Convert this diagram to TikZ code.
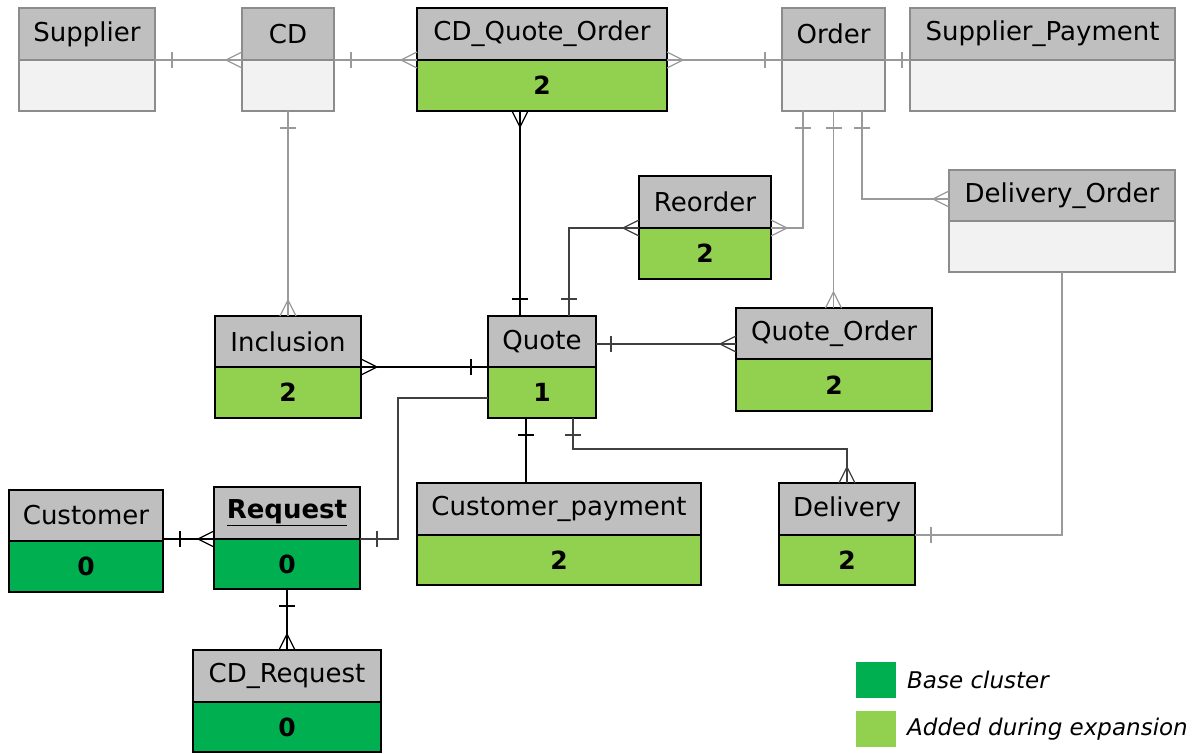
\documentclass[tikz,border=0pt]{standalone}
\usepackage{fontspec}
\setmainfont{DejaVu Sans}
\usetikzlibrary{calc}
\definecolor{hdrgray}{HTML}{BFBFBF}
\definecolor{plainbody}{HTML}{F2F2F2}
\definecolor{lgreen}{HTML}{92D050}
\definecolor{dgreen}{HTML}{00B050}
\definecolor{bordergray}{HTML}{8C8C8C}
\definecolor{linegray}{HTML}{9A9A9A}
\definecolor{linedark}{HTML}{404040}
\tikzset{
 pics/crow/.style={code={\draw (0,8)--(16,0)--(0,-8);}},
 pics/bar/.style={code={\draw (#1,8)--(#1,-8);}},
 pics/bar/.default=17,
}
\newcommand{\ent}[9]{%
 \node[hdr-#7, minimum width=#6pt, minimum height={(#4-#3)*1pt}] (#1h) at (#2,-#3) {#8};
 \node[bdy-#7, minimum width=#6pt, minimum height={(#5-#4)*1pt}] (#1b) at (#2,-#4) {#9};}
\begin{document}
\begin{tikzpicture}[x=1pt,y=1pt, font=\fontsize{26}{30}\selectfont,
 box/.style={rectangle, inner sep=0pt, outer sep=0pt, line width=1.6pt, anchor=north west},
 hdr-p/.style={box, fill=hdrgray, draw=bordergray},
 bdy-p/.style={box, fill=plainbody, draw=bordergray},
 hdr-l/.style={box, fill=hdrgray, draw=black},
 bdy-l/.style={box, fill=lgreen, draw=black, font=\fontsize{25}{28}\selectfont\bfseries},
 hdr-d/.style={box, fill=hdrgray, draw=black},
 bdy-d/.style={box, fill=dgreen, draw=black, font=\fontsize{25}{28}\selectfont\bfseries},
 gcon/.style={color=linegray, line width=1.2pt},
 kcon/.style={color=black, line width=1.2pt},
 dcon/.style={color=linedark, line width=1.2pt},
 legsq/.style={rectangle, inner sep=0pt, outer sep=0pt, minimum width=40pt, minimum height=36pt, anchor=north west},
 legtxt/.style={anchor=west, inner sep=0pt, font=\fontsize{23}{28}\selectfont\itshape},
]
\useasboundingbox (0,0) rectangle (1192,-753);
\fill[white] (0,0) rectangle (1192,-753);

\ent{sup}{19}{8}{60}{111}{136}{p}{Supplier}{}
\ent{cd}{242}{8}{60}{111}{92}{p}{CD}{}
\ent{cdqo}{417}{8}{60}{111}{250}{l}{CD\_Quote\_Order}{2}
\ent{ord}{782}{8}{60}{111}{103}{p}{Order}{}
\ent{sp}{910}{8}{60}{111}{265}{p}{Supplier\_Payment}{}
\ent{do}{949}{170}{221}{272}{226}{p}{Delivery\_Order}{}
\ent{re}{639}{176}{228}{279}{132}{l}{Reorder}{2}
\ent{inc}{215}{316}{367}{418}{146}{l}{Inclusion}{2}
\ent{qu}{488}{316}{367}{418}{108}{l}{Quote}{1}
\ent{qo}{736}{308}{359}{411}{196}{l}{Quote\_Order}{2}
\ent{cu}{9}{490}{541}{592}{154}{d}{Customer}{0}
\ent{rq}{214}{487}{539}{589}{146}{d}{\underline{\textbf{Request}}}{0}
\ent{cp}{417}{483}{535}{585}{284}{l}{Customer\_payment}{2}
\ent{de}{779}{483}{535}{585}{136}{l}{Delivery}{2}
\ent{cr}{193}{650}{702}{752}{188}{d}{CD\_Request}{0}

% light gray connectors
\begin{scope}[gcon]
\draw (suph.south east) -- (cdh.south west);
\path (suph.south east) pic{bar} (cdh.south west) pic[rotate=180]{crow};
\draw (cdh.south east) -- (cdqoh.south west);
\path (cdh.south east) pic{bar} (cdqoh.south west) pic[rotate=180]{crow};
\draw (cdqoh.south east) -- (ordh.south west);
\path (cdqoh.south east) pic{crow} (ordh.south west) pic[rotate=180]{bar};
\draw (ordh.south east) -- (sph.south west);
\path (sph.south west) pic[rotate=180]{bar=8};
\draw (cdb.south) -- (inch.north);
\path (cdb.south) pic[rotate=-90]{bar} (inch.north) pic[rotate=90]{crow};
\coordinate (o1) at ($(ordb.south west)+(21,0)$);
\draw (o1) |- (reh.south east);
\path (o1) pic[rotate=-90]{bar} (reh.south east) pic{crow};
\draw (ordb.south) -- (ordb.south |- qoh.north);
\path (ordb.south) pic[rotate=-90]{bar} (ordb.south |- qoh.north) pic[rotate=90]{crow};
\coordinate (o3) at ($(ordb.south west)+(80,0)$);
\coordinate (d1) at ($(doh.north west)+(0,-29)$);
\draw (o3) |- (d1);
\path (o3) pic[rotate=-90]{bar} (d1) pic[rotate=180]{crow};
\draw (dob.south) |- (deh.south east);
\path (deh.south east) pic{bar=16};
\end{scope}

% black connectors
\begin{scope}[kcon]
\coordinate (q1) at ($(quh.north west)+(32,0)$);
\draw (cdqob.south -| q1) -- (q1);
\path (cdqob.south -| q1) pic[rotate=-90]{crow} (q1) pic[rotate=90]{bar};
\draw (inch.south east) -- (quh.south west);
\path (inch.south east) pic{crow} (quh.south west) pic[rotate=180]{bar};
\coordinate (q4) at ($(qub.south west)+(38,0)$);
\draw (q4) -- (q4 |- cph.north);
\path (q4) pic[rotate=-90]{bar};
\draw (rqh.south west) -- (rqh.south west -| cuh.east);
\path (rqh.south west -| cuh.east) pic{bar} (rqh.south west) pic[rotate=180]{crow};
\draw (rqb.south) -- (rqb.south |- crh.north);
\path (rqb.south) pic[rotate=-90]{bar} (rqb.south |- crh.north) pic[rotate=90]{crow};
\end{scope}

% dark gray connectors
\begin{scope}[dcon]
\coordinate (q2) at ($(quh.north west)+(81,0)$);
\draw (q2) |- (reh.south west);
\path (q2) pic[rotate=90]{bar} (reh.south west) pic[rotate=180]{crow};
\coordinate (q3) at ($(quh.north east)+(0,-28)$);
\draw (q3) -- (q3 -| qoh.west);
\path (q3) pic{bar=15} (q3 -| qoh.west) pic[rotate=180]{crow};
\coordinate (q5) at ($(qub.north west)+(0,-31)$);
\draw (q5) -| ($(rqh.south east)+(38,0)$) -- (rqh.south east);
\path (rqh.south east) pic{bar};
\coordinate (q6) at ($(qub.south west)+(85,0)$);
\draw (q6) -- ++(0,-31) -| (deh.north);
\path (q6) pic[rotate=-90]{bar} (deh.north) pic[rotate=90]{crow};
\end{scope}

% legend
\node[legsq, fill=dgreen] (lg1) at (856,-662) {};
\node[legtxt] (lt1) at (907,-680) {Base cluster};
\node[legsq, fill=lgreen] (lg2) at (856,-711) {};
\node[legtxt] (lt2) at (907,-729) {Added during expansion};
\end{tikzpicture}
\end{document}
